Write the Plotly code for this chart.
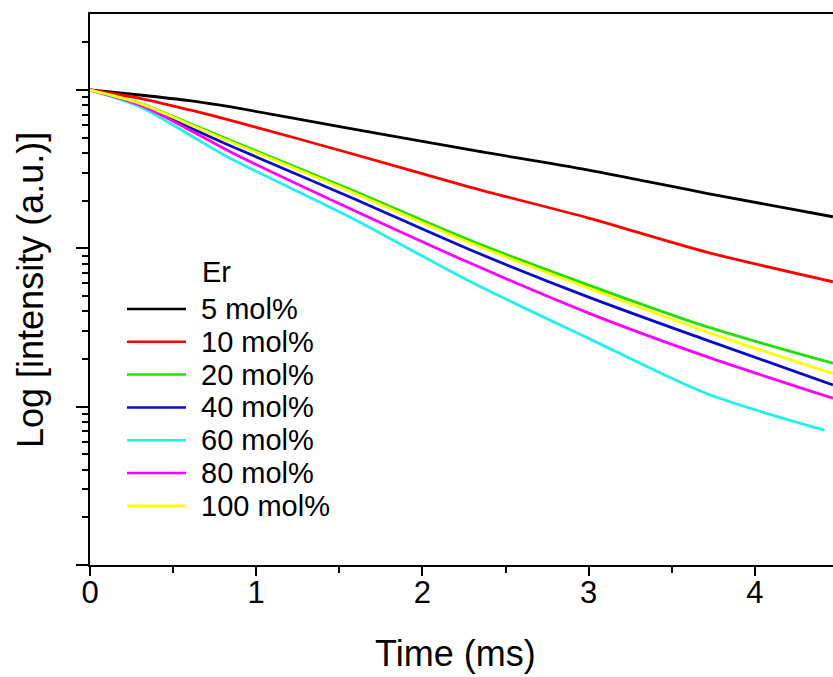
import plotly.graph_objects as go

# ---- data ----
time_ms = [0, 0.3, 0.6, 0.84, 1.56, 2.29, 3.0, 3.71, 4.47]
time_60 = [0, 0.3, 0.6, 0.84, 1.56, 2.29, 3.0, 3.71, 4.42]

er_5 = [1, 0.930, 0.856, 0.784, 0.573, 0.418, 0.312, 0.2226, 0.1583]
er_10 = [1, 0.886, 0.748, 0.646, 0.400, 0.2428, 0.1553, 0.0947, 0.0615]
er_20 = [1, 0.828, 0.614, 0.4831, 0.2369, 0.1120, 0.0586, 0.0320, 0.0188]
er_40 = [1, 0.810, 0.580, 0.4461, 0.2118, 0.0976, 0.0492, 0.0263, 0.0137]
er_60 = [1, 0.784, 0.520, 0.3719, 0.1583, 0.0615, 0.0270, 0.0121, 0.0071]
er_80 = [1, 0.804, 0.559, 0.4088, 0.1790, 0.0804, 0.0390, 0.0207, 0.0113]
er_100 = [1, 0.824, 0.605, 0.4727, 0.2301, 0.1080, 0.0561, 0.0297, 0.0162]

names = ["5 mol%", "10 mol%", "20 mol%", "40 mol%", "60 mol%", "80 mol%", "100 mol%"]
colors = ["#000000", "#FF0000", "#22E000", "#0A0ACC", "#22F0F0", "#FF00FF", "#FFFF00"]
series = [er_5, er_10, er_20, er_40, er_60, er_80, er_100]
times = [time_ms, time_ms, time_ms, time_ms, time_60, time_ms, time_ms]

x_ticks = [0, 1, 2, 3, 4]
x_minor = [0.5, 1.5, 2.5, 3.5]
y_ticks = [0.001, 0.01, 0.1, 1]
y_minor = [m * d for d in (0.001, 0.01, 0.1) for m in range(2, 10)] + [2]

FONT = "Liberation Sans, Arial, sans-serif"
W, H = 833, 677
L, R, T, B = 90, 0, 14, 112
PW, PH = W - L - R, H - T - B


def px_x(x):
    return (x - L) / PW


def px_y(y):
    return (H - B - y) / PH


fig = go.Figure()
for t, s, n, c in zip(times, series, names, colors):
    fig.add_trace(go.Scatter(x=t, y=s, name=n, mode="lines",
                             line=dict(color=c, width=2.8, shape="spline", smoothing=0.8),
                             showlegend=False))

# manual legend
LEG_FS = 29
ann = [dict(text="Er", x=px_x(200), y=px_y(272), xref="paper", yref="paper",
            xanchor="left", yanchor="middle", showarrow=False,
            font=dict(family=FONT, size=LEG_FS, color="black"))]
shapes = []
for i, (n, c) in enumerate(zip(names, colors)):
    yy = 309 + i * 32.8
    shapes.append(dict(type="line", xref="paper", yref="paper",
                       x0=px_x(127), x1=px_x(186), y0=px_y(yy), y1=px_y(yy),
                       line=dict(color=c, width=2.5)))
    ann.append(dict(text=n, x=px_x(199), y=px_y(yy), xref="paper", yref="paper",
                    xanchor="left", yanchor="middle", showarrow=False,
                    font=dict(family=FONT, size=LEG_FS, color="black")))

ann.append(dict(text="Time (ms)", x=px_x(455), y=px_y(653), xref="paper", yref="paper",
                xanchor="center", yanchor="middle", showarrow=False,
                font=dict(family=FONT, size=36, color="black")))
ann.append(dict(text="Log [intensity (a.u.)]", x=px_x(30), y=px_y(290), xref="paper", yref="paper",
                xanchor="center", yanchor="middle", showarrow=False, textangle=-90,
                font=dict(family=FONT, size=36, color="black")))

fig.update_layout(
    width=W, height=H,
    margin=dict(l=L, r=R, t=T, b=B),
    paper_bgcolor="white", plot_bgcolor="white",
    annotations=ann, shapes=shapes,
    xaxis=dict(range=[0, PW / 166.2], showgrid=False, zeroline=False,
               showline=True, linecolor="black", linewidth=2, mirror=True,
               ticks="outside", ticklen=9, tickwidth=2, tickcolor="black",
               tickvals=x_ticks, ticktext=[str(v) for v in x_ticks],
               ticklabelstandoff=-10,
               tickfont=dict(family=FONT, size=31, color="black"),
               minor=dict(tickvals=x_minor, ticks="outside", ticklen=6, tickwidth=2,
                          tickcolor="black", showgrid=False)),
    yaxis=dict(type="log", range=[-3, 0.48], showgrid=False, zeroline=False,
               showline=True, linecolor="black", linewidth=2, mirror=False,
               ticks="outside", ticklen=12, tickwidth=2, tickcolor="black",
               tickvals=y_ticks, showticklabels=False,
               minor=dict(tickvals=y_minor, ticks="outside", ticklen=6, tickwidth=2,
                          tickcolor="black", showgrid=False)),
)

fig.write_html("out.html")
